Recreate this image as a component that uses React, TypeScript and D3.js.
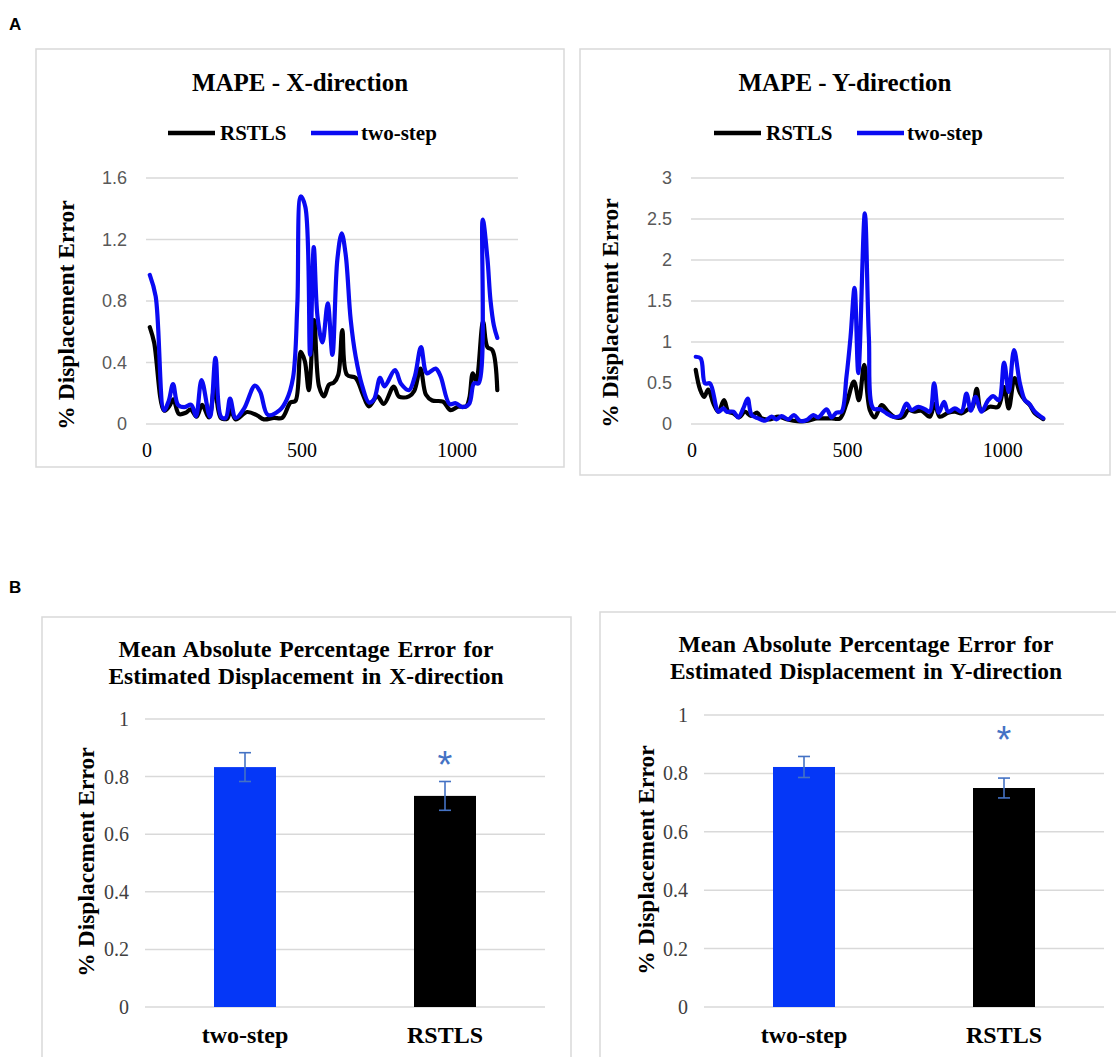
import React from 'react';
import * as d3 from 'd3';

// ---------- DATA ----------
const lineXTicks = [0, 500, 1000];
const xDirYTicks = [0, 0.4, 0.8, 1.2, 1.6];
const yDirYTicks = [0, 0.5, 1, 1.5, 2, 2.5, 3];
const barYTicks = [0, 0.2, 0.4, 0.6, 0.8, 1];

// X-direction MAPE: [frame, % error]
const xDirRSTLS: [number, number][] = [
  [9, 0.63], [23, 0.53], [55, 0.087], [71, 0.113], [85, 0.16], [103, 0.065], [125, 0.073], [141, 0.095],
  [160, 0.047], [178, 0.124], [200, 0.043], [218, 0.24], [238, 0.04], [259, 0.035], [270, 0.095], [286, 0.03],
  [323, 0.078], [355, 0.056], [377, 0.03], [409, 0.04], [436, 0.04], [463, 0.14], [479, 0.15], [496, 0.47],
  [509, 0.41], [522, 0.22], [539, 0.676], [555, 0.244], [571, 0.18], [587, 0.255], [603, 0.27], [617, 0.32],
  [630, 0.61], [645, 0.32], [673, 0.3], [695, 0.2], [716, 0.115], [743, 0.18], [764, 0.13], [796, 0.244],
  [813, 0.178], [845, 0.18], [862, 0.215], [882, 0.36], [900, 0.19], [920, 0.153], [955, 0.145], [979, 0.09],
  [1003, 0.112], [1030, 0.115], [1040, 0.17], [1051, 0.33], [1062, 0.28], [1084, 0.665], [1098, 0.5],
  [1114, 0.48], [1130, 0.22],
];
const xDirTwoStep: [number, number][] = [
  [9, 0.97], [28, 0.83], [55, 0.09], [70, 0.15], [84, 0.26], [100, 0.125], [120, 0.11], [143, 0.125],
  [158, 0.05], [176, 0.285], [203, 0.047], [221, 0.43], [239, 0.047], [254, 0.04], [268, 0.165], [286, 0.04],
  [313, 0.1], [348, 0.25], [365, 0.21], [390, 0.059], [428, 0.09], [450, 0.155], [471, 0.3], [485, 0.78],
  [496, 1.48], [511, 1.41], [526, 0.45], [538, 1.15], [550, 0.7], [566, 0.53], [583, 0.785], [598, 0.45],
  [614, 1.07], [628, 1.24], [641, 1.1], [657, 0.68], [673, 0.44], [694, 0.25], [716, 0.14], [732, 0.16],
  [752, 0.3], [766, 0.245], [800, 0.35], [820, 0.26], [845, 0.22], [864, 0.31], [884, 0.5], [903, 0.33],
  [931, 0.36], [947, 0.31], [976, 0.13], [996, 0.135], [1017, 0.11], [1039, 0.13], [1055, 0.265],
  [1070, 0.265], [1083, 1.33], [1098, 1.08], [1108, 0.805], [1119, 0.64], [1130, 0.56],
];

// Y-direction MAPE: [frame, % error]
const yDirRSTLS: [number, number][] = [
  [12, 0.66], [26, 0.42], [39, 0.33], [52, 0.42], [69, 0.25], [85, 0.15], [103, 0.29], [117, 0.15],
  [133, 0.13], [152, 0.081], [170, 0.15], [190, 0.1], [210, 0.138], [224, 0.068], [251, 0.057], [278, 0.089],
  [304, 0.057], [326, 0.04], [347, 0.032], [374, 0.04], [401, 0.068], [422, 0.068], [449, 0.068], [476, 0.068],
  [497, 0.25], [521, 0.516], [537, 0.29], [554, 0.72], [572, 0.171], [588, 0.081], [610, 0.23], [631, 0.15],
  [653, 0.081], [680, 0.089], [696, 0.17], [717, 0.15], [738, 0.163], [765, 0.089], [781, 0.25], [797, 0.089],
  [824, 0.138], [846, 0.15], [867, 0.13], [889, 0.18], [902, 0.2], [916, 0.43], [931, 0.163], [958, 0.21],
  [985, 0.21], [1004, 0.45], [1019, 0.19], [1038, 0.56], [1055, 0.38], [1071, 0.29], [1087, 0.23],
  [1103, 0.13], [1130, 0.06],
];
const yDirTwoStep: [number, number][] = [
  [12, 0.82], [28, 0.8], [42, 0.495], [58, 0.495], [85, 0.15], [101, 0.19], [112, 0.15], [133, 0.15],
  [149, 0.081], [165, 0.19], [179, 0.31], [192, 0.109], [213, 0.068], [235, 0.04], [256, 0.089], [272, 0.057],
  [288, 0.097], [310, 0.057], [328, 0.11], [347, 0.04], [369, 0.048], [390, 0.11], [406, 0.081], [433, 0.18],
  [449, 0.081], [465, 0.138], [481, 0.15], [497, 0.58], [510, 1.06], [523, 1.66], [535, 0.62], [556, 2.57],
  [569, 1.06], [583, 0.19], [605, 0.18], [626, 0.13], [647, 0.089], [669, 0.097], [690, 0.25], [706, 0.17],
  [728, 0.21], [749, 0.18], [765, 0.15], [779, 0.496], [794, 0.138], [811, 0.27], [824, 0.15], [846, 0.19],
  [867, 0.15], [883, 0.37], [897, 0.163], [912, 0.33], [931, 0.15], [953, 0.29], [969, 0.34], [987, 0.29],
  [1004, 0.75], [1019, 0.39], [1036, 0.9], [1055, 0.495], [1071, 0.29], [1084, 0.25], [1103, 0.15],
  [1130, 0.07],
];

// Bar charts
const barCategories = ['two-step', 'RSTLS'];
const barMeansX = [0.833, 0.733];
const barErrorsX = [0.05, 0.05];
const barMeansY = [0.822, 0.75];
const barErrorsY = [0.036, 0.034];
const sigStarX = 0.865; // asterisk level above RSTLS bar
const sigStarY = 0.94;

// ---------- STYLE ----------
const SERIF = '"Liberation Serif", "Times New Roman", serif';
const SANS = '"Liberation Sans", Arial, sans-serif';
const GRID = '#d9d9d9';
const BORDER = '#d9d9d9';
const BLUE_LINE = '#0a0af2';
const BLUE_BAR = '#0537f7';
const ERR = '#4472c4';

type LineProps = {
  box: [number, number, number, number];
  title: string;
  titleX: number;
  legendX: number;
  yTicks: number[];
  yMax: number;
  xRange: [number, number];
  yTitleX: number;
  yTitleY: number;
  yLabelRight: number;
  rstls: [number, number][];
  twoStep: [number, number][];
};

function LinePanel(p: LineProps) {
  const x = d3.scaleLinear().domain([0, 1200]).range(p.xRange);
  const y = d3.scaleLinear().domain([0, p.yMax]).range([424, 178]);
  const line = d3
    .line<[number, number]>()
    .x((d) => x(d[0]))
    .y((d) => y(d[1]))
    .curve(d3.curveCatmullRom.alpha(0.5));
  const [bx, by, bw, bh] = p.box;
  const lx = p.legendX;
  return (
    <g>
      <rect x={bx} y={by} width={bw} height={bh} fill="#fff" stroke={BORDER} strokeWidth={1.5} />
      <text x={p.titleX} y={91} textAnchor="middle" fontFamily={SERIF} fontWeight="bold" fontSize={25}>
        {p.title}
      </text>
      {/* legend */}
      <line x1={lx} x2={lx + 47} y1={133} y2={133} stroke="#000" strokeWidth={4.5} />
      <text x={lx + 52} y={140} fontFamily={SERIF} fontWeight="bold" fontSize={21}>RSTLS</text>
      <line x1={lx + 143} x2={lx + 190} y1={133} y2={133} stroke={BLUE_LINE} strokeWidth={4.5} />
      <text x={lx + 193} y={140} fontFamily={SERIF} fontWeight="bold" fontSize={21}>two-step</text>
      {/* grid */}
      {p.yTicks.map((t) => (
        <g key={t}>
          <line x1={p.xRange[0] - 1} x2={p.xRange[1] - 1} y1={y(t)} y2={y(t)} stroke={GRID} strokeWidth={1.5} />
          <text x={p.yLabelRight} y={y(t)} dy="0.35em" textAnchor="end" fontFamily={SANS} fontSize={18} fill="#595959">
            {String(t)}
          </text>
        </g>
      ))}
      {lineXTicks.map((t) => (
        <text key={t} x={x(t)} y={457} textAnchor="middle" fontFamily={SERIF} fontSize={20} fill="#000">
          {String(t)}
        </text>
      ))}
      <text
        transform={`translate(${p.yTitleX},${p.yTitleY}) rotate(-90)`}
        textAnchor="middle"
        dy="0.35em"
        fontFamily={SERIF}
        fontWeight="bold"
        fontSize={23.5}
      >
        % Displacement Error
      </text>
      <path d={line(p.rstls) || ''} fill="none" stroke="#000" strokeWidth={4.2} strokeLinejoin="round" strokeLinecap="round" />
      <path d={line(p.twoStep) || ''} fill="none" stroke={BLUE_LINE} strokeWidth={4.2} strokeLinejoin="round" strokeLinecap="round" />
    </g>
  );
}

type BarProps = {
  box: [number, number, number, number];
  titleLines: string[];
  titleX: number;
  titleY: number;
  xRange: [number, number];
  yTop: number;
  means: number[];
  errors: number[];
  star: number;
  yTitleX: number;
  yTitleY: number;
  yLabelRight: number;
};

function BarPanel(p: BarProps) {
  const x = d3.scaleBand<string>().domain(barCategories).range(p.xRange).padding(0);
  const y = d3.scaleLinear().domain([0, 1]).range([1007, p.yTop]);
  const bw = x.bandwidth() * 0.31;
  const [bx, by, bwid, bh] = p.box;
  const colors = [BLUE_BAR, '#000'];
  return (
    <g>
      <rect x={bx} y={by} width={bwid} height={bh} fill="#fff" stroke={BORDER} strokeWidth={1.5} />
      {p.titleLines.map((t, i) => (
        <text key={i} x={p.titleX} y={p.titleY + i * 27} textAnchor="middle" fontFamily={SERIF} fontWeight="bold" fontSize={23.5} wordSpacing={2}>
          {t}
        </text>
      ))}
      {barYTicks.map((t) => (
        <g key={t}>
          <line x1={p.xRange[0]} x2={p.xRange[1]} y1={y(t)} y2={y(t)} stroke={GRID} strokeWidth={1.5} />
          <text x={p.yLabelRight} y={y(t)} dy="0.35em" textAnchor="end" fontFamily={SERIF} fontSize={20} fill="#404040">
            {String(t)}
          </text>
        </g>
      ))}
      {barCategories.map((c, i) => {
        const cx = (x(c) || 0) + x.bandwidth() / 2;
        const m = p.means[i];
        const e = p.errors[i];
        return (
          <g key={c}>
            <rect x={cx - bw / 2} y={y(m)} width={bw} height={y(0) - y(m)} fill={colors[i]} />
            <line x1={cx} x2={cx} y1={y(m + e)} y2={y(m - e)} stroke={ERR} strokeWidth={1.6} />
            <line x1={cx - 6} x2={cx + 6} y1={y(m + e)} y2={y(m + e)} stroke={ERR} strokeWidth={1.6} />
            <line x1={cx - 6} x2={cx + 6} y1={y(m - e)} y2={y(m - e)} stroke={ERR} strokeWidth={1.6} />
            <text x={cx} y={1043} textAnchor="middle" fontFamily={SERIF} fontWeight="bold" fontSize={24}>
              {c}
            </text>
          </g>
        );
      })}
      {(() => {
        const c = barCategories[1];
        const cx = (x(c) || 0) + x.bandwidth() / 2;
        return (
          <text x={cx} y={y(p.star) + 20} textAnchor="middle" fontFamily={SANS} fontSize={38} fill={ERR}>
            *
          </text>
        );
      })()}
      <text
        transform={`translate(${p.yTitleX},${p.yTitleY}) rotate(-90)`}
        textAnchor="middle"
        dy="0.35em"
        fontFamily={SERIF}
        fontWeight="bold"
        fontSize={23.5}
      >
        % Displacement Error
      </text>
    </g>
  );
}

export default function App() {
  return (
    <svg
      width={1116}
      height={1057}
      viewBox="0 0 1116 1057"
      style={{ position: 'absolute', left: 0, top: 0, display: 'block', background: '#fff' }}
    >
      <rect x={0} y={0} width={1116} height={1057} fill="#fff" />
      <text x={9} y={30} fontFamily={SANS} fontWeight="bold" fontSize={17}>A</text>
      <text x={9} y={593} fontFamily={SANS} fontWeight="bold" fontSize={17}>B</text>
      <LinePanel
        box={[36, 49, 528, 418]}
        title="MAPE - X-direction"
        titleX={300}
        legendX={168}
        yTicks={xDirYTicks}
        yMax={1.6}
        xRange={[147, 519]}
        yTitleX={66}
        yTitleY={315}
        yLabelRight={127}
        rstls={xDirRSTLS}
        twoStep={xDirTwoStep}
      />
      <LinePanel
        box={[580, 49, 530, 426]}
        title="MAPE - Y-direction"
        titleX={845}
        legendX={714}
        yTicks={yDirYTicks}
        yMax={3}
        xRange={[692, 1065]}
        yTitleX={610}
        yTitleY={313}
        yLabelRight={672}
        rstls={yDirRSTLS}
        twoStep={yDirTwoStep}
      />
      <BarPanel
        box={[42, 617, 529, 460]}
        titleLines={['Mean Absolute Percentage Error for', 'Estimated Displacement in X-direction']}
        titleX={306}
        titleY={657}
        xRange={[145, 545]}
        yTop={719}
        means={barMeansX}
        errors={barErrorsX}
        star={sigStarX}
        yTitleX={86}
        yTitleY={862}
        yLabelRight={129}
      />
      <BarPanel
        box={[600, 612, 530, 460]}
        titleLines={['Mean Absolute Percentage Error for', 'Estimated Displacement in Y-direction']}
        titleX={866}
        titleY={652}
        xRange={[704, 1104]}
        yTop={715}
        means={barMeansY}
        errors={barErrorsY}
        star={sigStarY}
        yTitleX={646}
        yTitleY={860}
        yLabelRight={688}
      />
    </svg>
  );
}
